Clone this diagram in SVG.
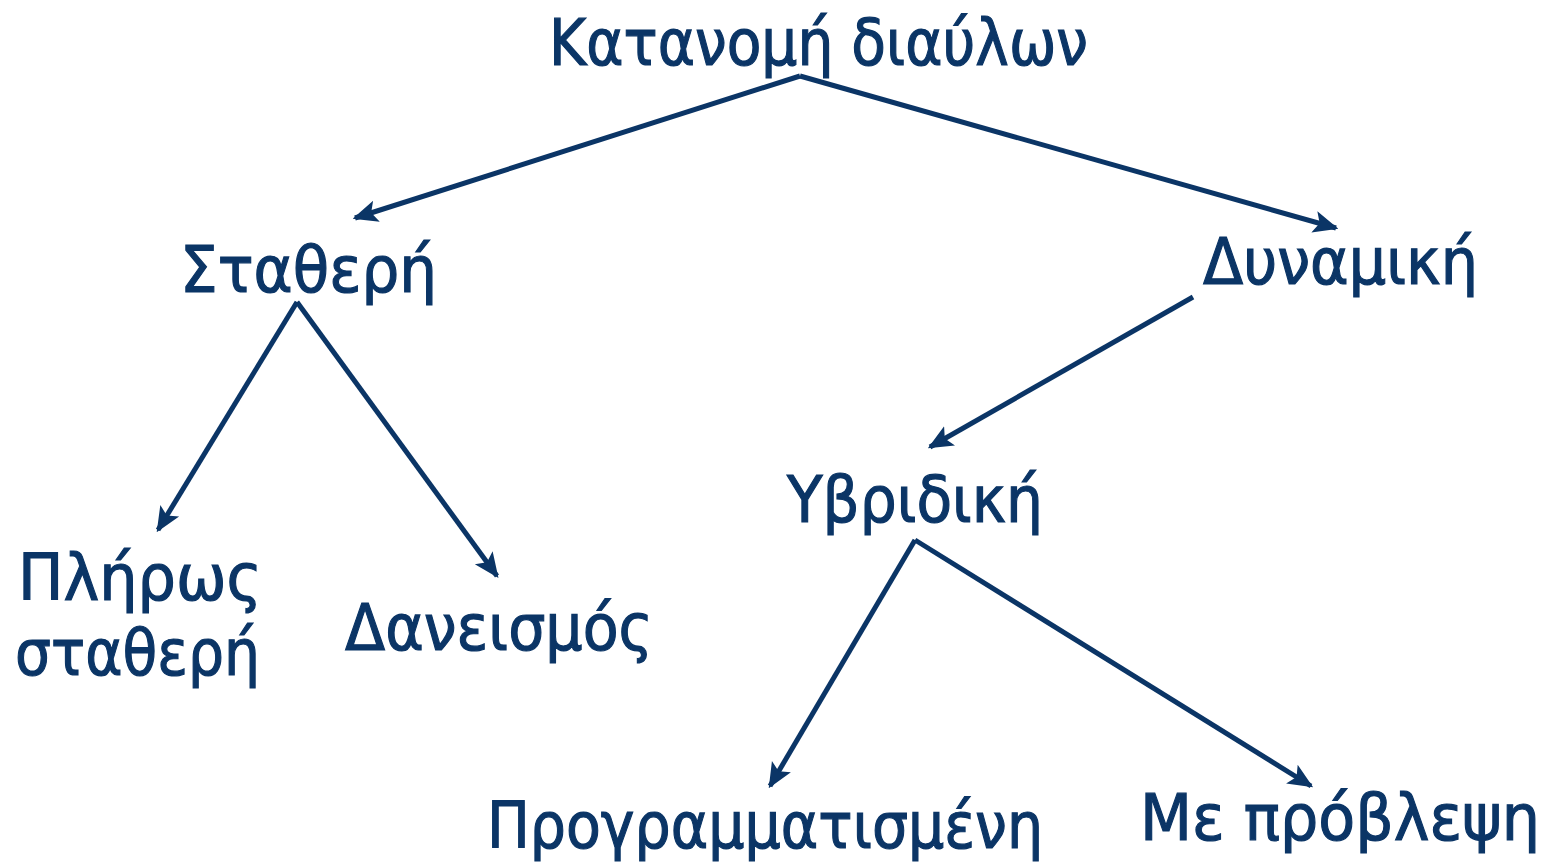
<svg xmlns="http://www.w3.org/2000/svg" width="1554" height="865" viewBox="0 0 1554 865">
  <style>
    .lbl { font-family: "DejaVu Sans", "Noto Sans", sans-serif; font-size: 64px; fill: #0b3566; stroke: #0b3566; stroke-width: 1.2; }
    .edge { stroke: #0b3566; stroke-width: 5; fill: none; marker-end: url(#head); }
  </style>
  <defs>
    <!-- solid arrowhead with a shallow notch -->
    <marker id="head" viewBox="0 0 10 10" refX="9" refY="5" markerWidth="5" markerHeight="5" orient="auto" markerUnits="strokeWidth">
      <path d="M0,0.6 L10,5 L0,9.4 L2.2,5 Z" fill="#0b3566"/>
    </marker>
  </defs>
  <rect width="1554" height="865" fill="#ffffff"/>

  <g id="connectors">
    <line class="edge" x1="800" y1="76" x2="355" y2="218"/>
    <line class="edge" x1="800" y1="76" x2="1336" y2="228"/>
    <line class="edge" x1="297" y1="302" x2="158" y2="530"/>
    <line class="edge" x1="297" y1="302" x2="497" y2="576"/>
    <line class="edge" x1="1193" y1="297" x2="930" y2="447"/>
    <line class="edge" x1="915" y1="540" x2="770" y2="786"/>
    <line class="edge" x1="915" y1="540" x2="1311" y2="786"/>
  </g>

  <g id="root">
    <text class="lbl" x="549" y="65" textLength="539" lengthAdjust="spacingAndGlyphs">Κατανομή διαύλων</text>
  </g>
  <g id="fixed">
    <text class="lbl" x="180" y="292" textLength="257" lengthAdjust="spacingAndGlyphs">Σταθερή</text>
  </g>
  <g id="dynamic">
    <text class="lbl" x="1203" y="284" textLength="275" lengthAdjust="spacingAndGlyphs">Δυναμική</text>
  </g>
  <g id="fully-fixed">
    <text class="lbl" x="18" y="600" textLength="244" lengthAdjust="spacingAndGlyphs">Πλήρως</text>
    <text class="lbl" x="15" y="675" textLength="245" lengthAdjust="spacingAndGlyphs">σταθερή</text>
  </g>
  <g id="borrowing">
    <text class="lbl" x="345" y="650" textLength="308" lengthAdjust="spacingAndGlyphs">Δανεισμός</text>
  </g>
  <g id="hybrid">
    <text class="lbl" x="787" y="522" textLength="256" lengthAdjust="spacingAndGlyphs">Υβριδική</text>
  </g>
  <g id="scheduled">
    <text class="lbl" x="487" y="848" textLength="556" lengthAdjust="spacingAndGlyphs">Προγραμματισμένη</text>
  </g>
  <g id="predictive">
    <text class="lbl" x="1140" y="840" textLength="400" lengthAdjust="spacingAndGlyphs">Με πρόβλεψη</text>
  </g>
</svg>
